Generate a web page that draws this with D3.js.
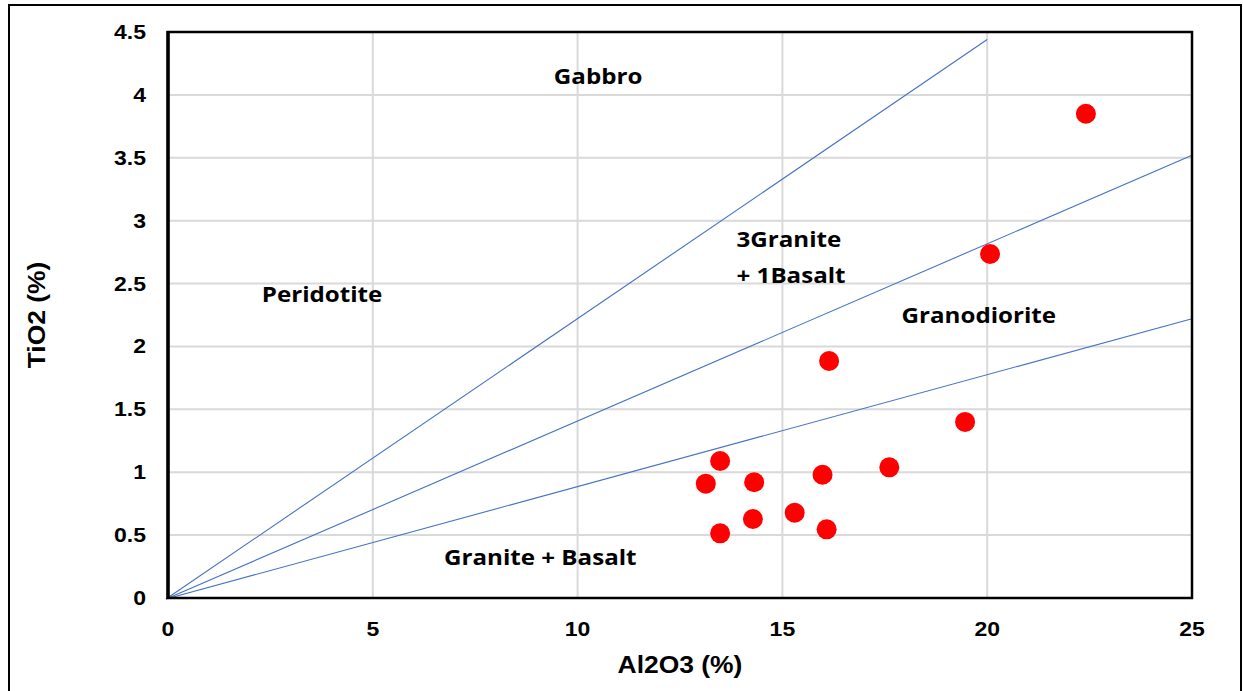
<!DOCTYPE html>
<html>
<head>
<meta charset="utf-8">
<script src="https://cdn.jsdelivr.net/npm/d3@7"></script>
<style>
  html, body { margin: 0; padding: 0; background: #ffffff; }
  svg { display: block; }
</style>
</head>
<body>
<svg id="chart" width="1243" height="691"></svg>
<script>
// Sample compositions (wt %)
const al2o3 = [22.41, 20.07, 16.14, 19.46, 17.61, 15.98, 13.48, 13.13, 14.31, 14.28, 15.30, 13.48, 16.08];
const tio2  = [3.85, 2.735, 1.884, 1.40, 1.039, 0.980, 1.089, 0.909, 0.920, 0.628, 0.678, 0.514, 0.546];

// Mixing lines through the origin: [Al2O3 end, TiO2 end]
const lineEndX = [20, 25, 25];
const lineEndY = [4.44, 3.52, 2.22];

// Axis ticks
const xTicks = [0, 5, 10, 15, 20, 25];
const yTicks = [0, 0.5, 1, 1.5, 2, 2.5, 3, 3.5, 4, 4.5];

// Field labels: text lines, anchor Al2O3, baseline TiO2
const fieldNames = [["Gabbro"], ["3Granite", "+ 1Basalt"], ["Peridotite"], ["Granodiorite"], ["Granite + Basalt"]];
const fieldX = [10.5, 13.88, 2.29, 17.91, 6.74];
const fieldY = [4.09, 2.79, 2.35, 2.19, 0.262];
const fieldAnchor = ["middle", "start", "start", "start", "start"];

const svg = d3.select("#chart");
const plot = { left: 168, right: 1192, top: 32, bottom: 598 };
const stretch = 1.15; // horizontal text stretch

const x = d3.scaleLinear().domain([0, 25]).range([plot.left, plot.right]);
const y = d3.scaleLinear().domain([0, 4.5]).range([plot.bottom, plot.top]);

// Outer frame
svg.append("rect")
  .attr("x", 9).attr("y", 5).attr("width", 1232).attr("height", 700)
  .attr("fill", "#fff").attr("stroke", "#000").attr("stroke-width", 2);

// Gridlines
svg.append("g").selectAll("line").data(xTicks.filter(d => d > 0 && d < 25)).join("line")
  .attr("x1", d => x(d)).attr("x2", d => x(d))
  .attr("y1", plot.top).attr("y2", plot.bottom)
  .attr("stroke", "#d9d9d9").attr("stroke-width", 2);
svg.append("g").selectAll("line").data(yTicks.filter(d => d > 0 && d < 4.5)).join("line")
  .attr("x1", plot.left).attr("x2", plot.right)
  .attr("y1", d => y(d)).attr("y2", d => y(d))
  .attr("stroke", "#d9d9d9").attr("stroke-width", 2);

// Mixing lines
svg.append("g").selectAll("line").data(lineEndX.map((d, i) => [d, lineEndY[i]])).join("line")
  .attr("x1", x(0) - 2).attr("y1", y(0) + 1)
  .attr("x2", d => x(d[0])).attr("y2", d => y(d[1]))
  .attr("stroke", "#4472c4").attr("stroke-width", 1.1);

// Plot frame
svg.append("rect")
  .attr("x", plot.left).attr("y", plot.top)
  .attr("width", plot.right - plot.left).attr("height", plot.bottom - plot.top)
  .attr("fill", "none").attr("stroke", "#000").attr("stroke-width", 2.5);
svg.append("line")
  .attr("x1", plot.left).attr("x2", plot.left)
  .attr("y1", plot.top - 1).attr("y2", plot.bottom + 1)
  .attr("stroke", "#000").attr("stroke-width", 3.5);

// Axes (labels only; frame drawn above)
const xAxis = svg.append("g").attr("transform", `translate(0,${plot.bottom})`)
  .call(d3.axisBottom(x).tickValues(xTicks).tickFormat(d3.format("")).tickSize(0).tickPadding(0));
xAxis.select(".domain").remove();
xAxis.selectAll(".tick").attr("transform", null);
xAxis.selectAll("text")
  .attr("x", 0).attr("y", 0).attr("dy", 0)
  .attr("transform", d => `translate(${x(d)},38) scale(${stretch},1)`);

const yAxis = svg.append("g").attr("transform", `translate(${plot.left},0)`)
  .call(d3.axisLeft(y).tickValues(yTicks).tickFormat(d3.format("")).tickSize(0).tickPadding(0));
yAxis.select(".domain").remove();
yAxis.selectAll(".tick").attr("transform", null);
yAxis.selectAll("text")
  .attr("x", 0).attr("y", 0).attr("dy", 0)
  .attr("transform", d => `translate(-22,${y(d) + 7}) scale(${stretch},1)`);

svg.selectAll(".tick text")
  .attr("font-family", "'Liberation Sans', Arial, sans-serif")
  .attr("font-weight", "bold").attr("font-size", 20).attr("fill", "#000");

// Axis titles
svg.append("text")
  .attr("transform", `translate(${(plot.left + plot.right) / 2},673) scale(${stretch},1)`)
  .attr("text-anchor", "middle")
  .attr("font-family", "'Liberation Sans', Arial, sans-serif")
  .attr("font-weight", "bold").attr("font-size", 23)
  .text("Al2O3 (%)");
svg.append("text")
  .attr("transform", `translate(45,${(plot.top + plot.bottom) / 2}) rotate(-90) scale(${stretch},1)`)
  .attr("text-anchor", "middle")
  .attr("font-family", "'Liberation Sans', Arial, sans-serif")
  .attr("font-weight", "bold").attr("font-size", 23)
  .text("TiO2 (%)");

// Field labels
fieldNames.forEach((lines, i) => {
  lines.forEach((t, j) => {
    svg.append("text")
      .attr("transform", `translate(${x(fieldX[i])},${y(fieldY[i]) + j * 36}) scale(${stretch},1)`)
      .attr("text-anchor", fieldAnchor[i])
      .attr("font-family", "'Open Sans', sans-serif")
      .attr("font-weight", "bold").attr("font-size", 21)
      .attr("fill", "#000")
      .text(t);
  });
});

// Samples
svg.append("g").selectAll("circle").data(al2o3.map((d, i) => [d, tio2[i]])).join("circle")
  .attr("cx", d => x(d[0])).attr("cy", d => y(d[1]))
  .attr("r", 10).attr("fill", "#ff0000");
</script>
</body>
</html>
